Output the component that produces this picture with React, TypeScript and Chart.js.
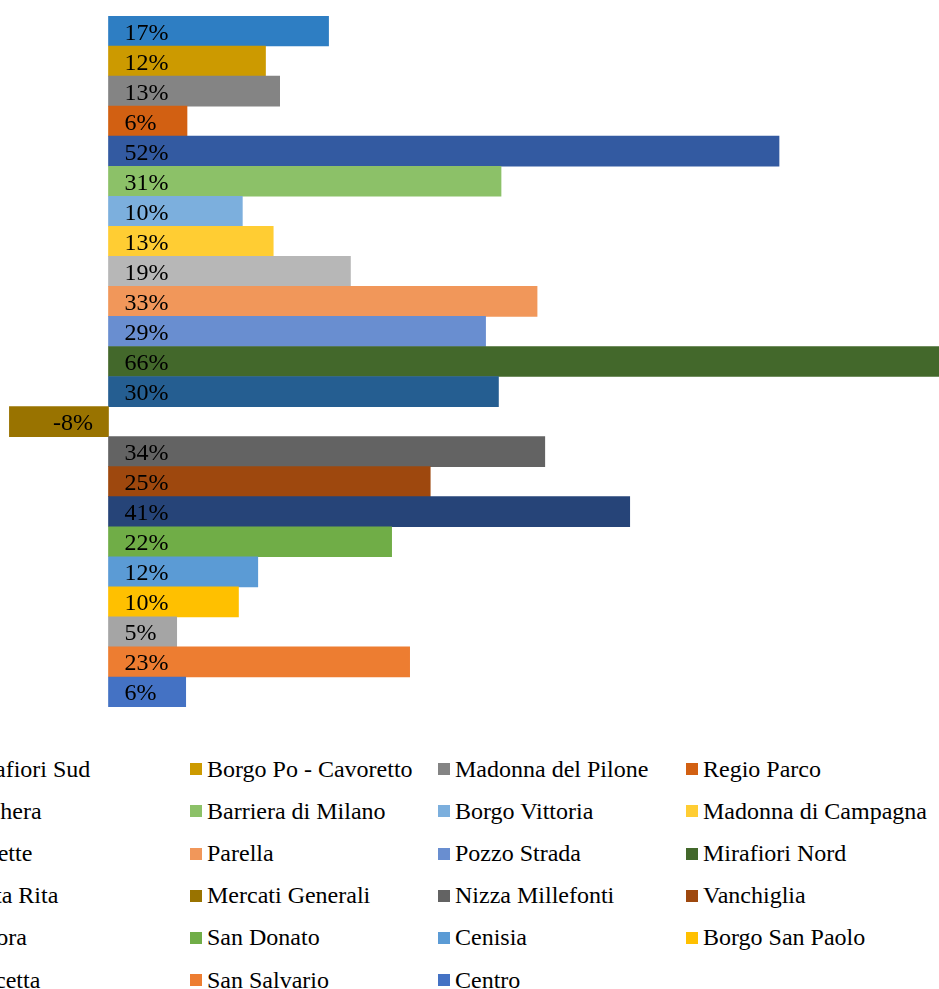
import React, { useEffect, useRef } from "react";
import { Chart, registerables } from "chart.js";

Chart.register(...registerables);

const districts: string[] = [
  "Mirafiori Sud",
  "Borgo Po - Cavoretto",
  "Madonna del Pilone",
  "Regio Parco",
  "Falchera",
  "Barriera di Milano",
  "Borgo Vittoria",
  "Madonna di Campagna",
  "Vallette",
  "Parella",
  "Pozzo Strada",
  "Mirafiori Nord",
  "Santa Rita",
  "Mercati Generali",
  "Nizza Millefonti",
  "Vanchiglia",
  "Aurora",
  "San Donato",
  "Cenisia",
  "Borgo San Paolo",
  "Crocetta",
  "San Salvario",
  "Centro",
];

const changePct: number[] = [
  17.1, 12.2, 13.3, 6.1, 52.1, 30.5, 10.4, 12.8, 18.8, 33.3, 29.3, 65.8,
  30.3, -7.7, 33.9, 25.0, 40.5, 22.0, 11.6, 10.1, 5.3, 23.4, 6.0,
];

const colors: string[] = [
  "#2E7EC3",
  "#CC9A00",
  "#848484",
  "#D26012",
  "#335AA1",
  "#8CC168",
  "#7CAFDD",
  "#FFCD33",
  "#B7B7B7",
  "#F1975A",
  "#698ED0",
  "#43682B",
  "#255E91",
  "#997300",
  "#636363",
  "#9E480E",
  "#264478",
  "#70AD47",
  "#5B9BD5",
  "#FFC000",
  "#A5A5A5",
  "#ED7D31",
  "#4472C4",
];

const X_MIN = -8.43;
const X_MAX = 64.53;
const FONT = '"Liberation Serif", "Times New Roman", serif';

const labelPlugin = {
  id: "barLabels",
  afterDatasetsDraw(chart: any) {
    const ctx = chart.ctx;
    ctx.save();
    ctx.font = `24px ${FONT}`;
    ctx.fillStyle = "#000000";
    ctx.textBaseline = "alphabetic";
    chart.data.datasets.forEach((ds: any, di: number) => {
      const meta = chart.getDatasetMeta(di);
      meta.data.forEach((el: any, i: number) => {
        const v = ds.data[i] as number;
        const p = el.getProps(["x", "y", "base"], true);
        const txt = `${Math.round(v)}%`;
        const yb = p.y + 8.5;
        if (v >= 0) {
          ctx.textAlign = "left";
          ctx.fillText(txt, p.base + 16, yb);
        } else {
          ctx.textAlign = "right";
          ctx.fillText(txt, p.base - 15.5, yb);
        }
      });
    });
    ctx.restore();
  },
};

export default function App() {
  const canvasRef = useRef<HTMLCanvasElement | null>(null);

  useEffect(() => {
    if (!canvasRef.current) return;
    const chart = new Chart(canvasRef.current, {
      type: "bar",
      data: {
        labels: districts,
        datasets: [
          {
            label: "Variazione",
            data: changePct,
            backgroundColor: colors,
            borderWidth: 0,
            barPercentage: 1,
            categoryPercentage: 1,
          },
        ],
      },
      options: {
        indexAxis: "y",
        animation: false,
        responsive: false,
        maintainAspectRatio: false,
        layout: { padding: { top: 16, bottom: 13, left: 0, right: 0 } },
        plugins: {
          legend: { display: false },
          tooltip: { enabled: false },
        },
        scales: {
          x: { display: false, min: X_MIN, max: X_MAX },
          y: { display: false },
        },
      },
      plugins: [labelPlugin],
    });
    return () => chart.destroy();
  }, []);

  return (
    <div
      style={{
        position: "absolute",
        left: 0,
        top: 0,
        width: 939,
        height: 989,
        overflow: "hidden",
        background: "#ffffff",
      }}
    >
      <canvas
        ref={canvasRef}
        width={939}
        height={720}
        style={{ position: "absolute", left: 0, top: 0, width: 939, height: 720 }}
      />
      {districts.map((name, i) => {
        const col = i % 4;
        const row = Math.floor(i / 4);
        return (
          <div
            key={name}
            style={{
              position: "absolute",
              left: -58 + 248 * col,
              top: 756.6 + 42.2 * row,
              height: 24,
              width: 245,
            }}
          >
            <span
              style={{
                position: "absolute",
                left: 0,
                top: 6.7,
                width: 12,
                height: 12,
                background: colors[i],
              }}
            />
            <span
              style={{
                position: "absolute",
                left: 17,
                top: 0,
                whiteSpace: "nowrap",
                fontFamily: FONT,
                fontSize: 24,
                lineHeight: "24px",
                color: "#000000",
              }}
            >
              {name}
            </span>
          </div>
        );
      })}
    </div>
  );
}
